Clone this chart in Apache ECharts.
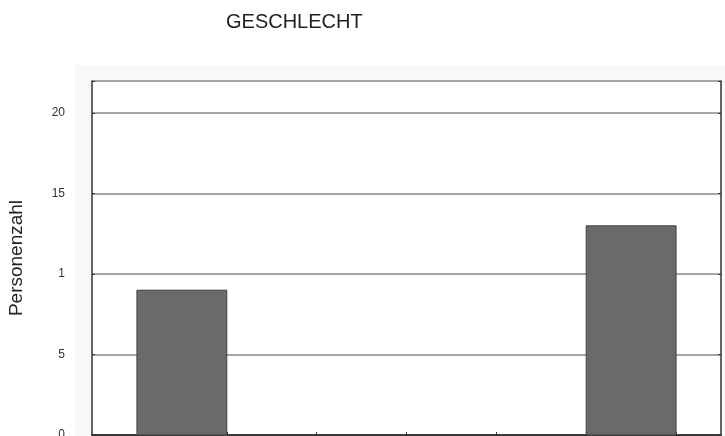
<!DOCTYPE html>
<html>
<head>
<meta charset="utf-8">
<script src="https://cdn.jsdelivr.net/npm/echarts@6/dist/echarts.min.js"></script>
<style>
  html, body { margin: 0; padding: 0; background: #fff; }
  #chart { width: 725px; height: 436px; }
</style>
</head>
<body>
<div id="chart"></div>
<script>
// 7 slots on the x axis, ticks in the middle of each slot
const xSlots = ['', '', '', '', '', '', ''];
// bars: from / to on the slot scale, and the counts
const binStart = [0.5, 5.5];
const binEnd = [1.5, 6.5];
const counts = [9, 13];
// y tick labels as printed in the picture (10 is cut to "1")
const yTickValues = [0, 5, 10, 15, 20];
const yTickLabels = ['0', '5', '1', '15', '20'];

const barData = counts.map((c, i) => [binStart[i], binEnd[i], c]);

let myChart = echarts.init(document.getElementById('chart'));

const frameLine = { show: true, lineStyle: { color: '#333', width: 1.5 } };
const innerTick = { show: true, inside: true, length: 3, lineStyle: { color: '#333', width: 1 } };

let option = {
  animation: false,
  backgroundColor: '#fff',
  textStyle: { fontFamily: 'Liberation Sans' },
  graphic: [{
    type: 'rect',
    z: -10,
    shape: { x: 75, y: 65, width: 650, height: 371 },
    style: { fill: '#f8f8f8' }
  }],
  title: {
    text: 'GESCHLECHT',
    left: 221,
    top: 7,
    textStyle: { fontFamily: 'Liberation Sans', fontSize: 20, fontWeight: 'normal', color: '#222' }
  },
  grid: {
    left: 92, right: 4, top: 81, bottom: 1,
    outerBoundsMode: 'none', containLabel: false,
    show: true, backgroundColor: '#fff', borderWidth: 0
  },
  xAxis: [
    {
      type: 'category', data: xSlots, position: 'bottom', boundaryGap: true,
      axisLine: frameLine,
      axisTick: Object.assign({ alignWithLabel: true }, innerTick),
      axisLabel: { show: false }, splitLine: { show: false }
    },
    {
      type: 'category', data: xSlots, position: 'top', boundaryGap: true,
      axisLine: frameLine,
      axisTick: Object.assign({ alignWithLabel: true }, innerTick),
      axisLabel: { show: false }, splitLine: { show: false }
    },
    { type: 'value', min: 0, max: 7, show: false }
  ],
  yAxis: [
    {
      type: 'value', min: 0, max: 22, interval: 5, position: 'left',
      name: 'Personenzahl', nameLocation: 'middle', nameGap: 66,
      nameTextStyle: { fontFamily: 'Liberation Sans', fontSize: 19, color: '#222' },
      axisLine: frameLine,
      axisTick: innerTick,
      axisLabel: {
        margin: 27, fontSize: 12, color: '#333',
        formatter: v => {
          const i = yTickValues.indexOf(v);
          return i < 0 ? '' : yTickLabels[i];
        }
      },
      splitLine: { show: true, lineStyle: { color: '#888', width: 1.5 } }
    },
    {
      type: 'value', min: 0, max: 22, interval: 5, position: 'right',
      axisLine: frameLine,
      axisTick: innerTick,
      axisLabel: { show: false },
      splitLine: { show: false }
    }
  ],
  series: [{
    type: 'custom',
    xAxisIndex: 2,
    yAxisIndex: 0,
    data: barData,
    renderItem: (params, api) => {
      const p0 = api.coord([api.value(0), api.value(2)]);
      const p1 = api.coord([api.value(1), 0]);
      return {
        type: 'rect',
        shape: { x: p0[0], y: p0[1], width: p1[0] - p0[0], height: p1[1] - p0[1] },
        style: { fill: '#6a6a6a', stroke: '#404040', lineWidth: 1 }
      };
    },
    z: 5
  }]
};

myChart.setOption(option);
window.onresize = myChart.resize;
</script>
</body>
</html>
